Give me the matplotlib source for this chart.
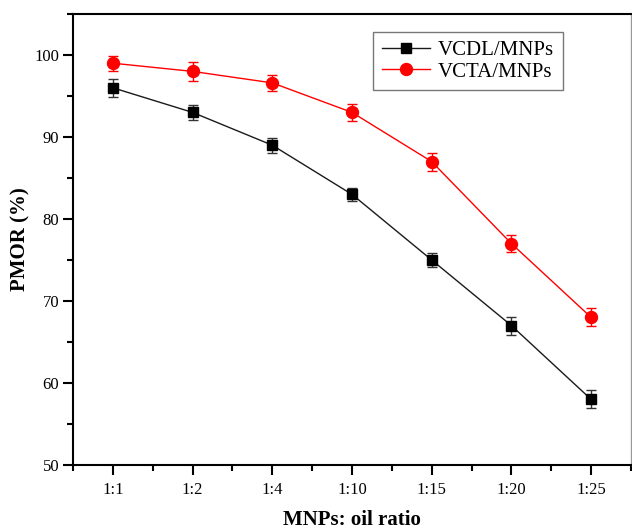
import matplotlib
matplotlib.use("Agg")
import matplotlib.pyplot as plt
from matplotlib.lines import Line2D
from matplotlib.ticker import MultipleLocator

ratios = ["1:1", "1:2", "1:4", "1:10", "1:15", "1:20", "1:25"]
vcdl = [96, 93, 89, 83, 75, 67, 58]
vcdl_err = [1.1, 0.9, 0.9, 0.8, 0.9, 1.1, 1.1]
vcta = [99, 98, 96.6, 93, 87, 77, 68]
vcta_err = [0.9, 1.2, 1.0, 1.0, 1.1, 1.0, 1.1]

plt.rcParams["font.family"] = ["Liberation Serif", "DejaVu Serif"]

fig = plt.figure(figsize=(6.32, 5.29), dpi=100)
ax = fig.add_axes([73 / 632, 64 / 529, 558 / 632, 451 / 529])

x = list(range(len(ratios)))
ax.errorbar(x, vcdl, yerr=vcdl_err, color="#1a1a1a", lw=1.0, marker="s",
            ms=7.2, mfc="black", mec="black", capsize=3.6, elinewidth=1.0,
            capthick=1.0, ecolor="#333333")
ax.errorbar(x, vcta, yerr=vcta_err, color="red", lw=1.0, marker="o",
            ms=8.6, mfc="red", mec="red", capsize=3.6, elinewidth=1.0,
            capthick=1.0, ecolor="red")

ax.set_xlim(-0.5, 6.5)
ax.set_ylim(50, 105)
ax.set_xticks(x)
ax.set_xticklabels(ratios)
ax.xaxis.set_minor_locator(MultipleLocator(0.5))
ax.yaxis.set_major_locator(MultipleLocator(10))
ax.yaxis.set_minor_locator(MultipleLocator(5))
ax.tick_params(which="both", direction="out", width=1.5, labelsize=12,
               top=False, right=False)
ax.tick_params(which="major", length=7)
ax.tick_params(which="minor", length=4)
ax.tick_params(axis="x", pad=5)
ax.tick_params(axis="y", pad=3)

for side in ("left", "bottom", "top"):
    ax.spines[side].set_linewidth(1.5)
ax.spines["right"].set_linewidth(1.0)
ax.spines["right"].set_color("#999999")

ax.set_xlabel("MNPs: oil ratio", fontsize=15, fontweight="bold", labelpad=9)
ax.set_ylabel("PMOR (%)", fontsize=15, fontweight="bold", labelpad=3)

handles = [
    Line2D([], [], color="#1a1a1a", lw=1.0, marker="s", ms=7.2,
           mfc="black", mec="black"),
    Line2D([], [], color="red", lw=1.0, marker="o", ms=8.6,
           mfc="red", mec="red"),
]
leg = ax.legend(handles, ["VCDL/MNPs", "VCTA/MNPs"], loc="upper left",
                bbox_to_anchor=(0.538, 0.96), fontsize=15, frameon=True,
                fancybox=False, edgecolor="#555555", handlelength=2.3,
                borderpad=0.42, labelspacing=0.08, handletextpad=0.4,
                borderaxespad=0)
leg.get_frame().set_linewidth(1.0)

fig.savefig("out.png", dpi=100)
